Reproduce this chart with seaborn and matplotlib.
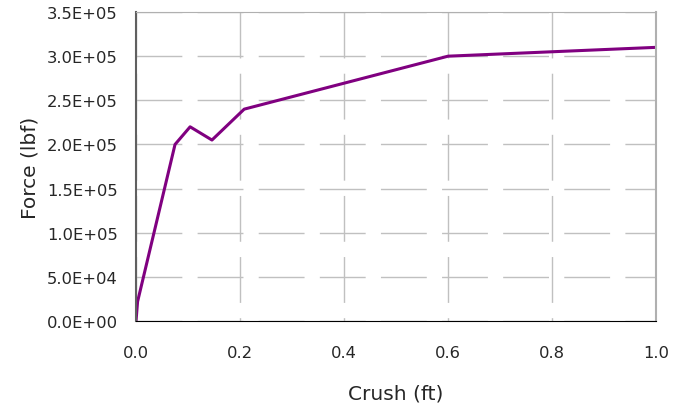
import matplotlib
matplotlib.use("Agg")
import matplotlib.pyplot as plt
import matplotlib.ticker as mticker
import pandas as pd
import seaborn as sns

# crush vs force readings
crush = [0.0, 0.003, 0.075, 0.104, 0.146, 0.208, 0.6, 1.0]
force = [0.0, 2.2e4, 2.0e5, 2.2e5, 2.05e5, 2.4e5, 3.0e5, 3.1e5]

df = pd.DataFrame({"Crush (ft)": crush, "Force (lbf)": force})

sns.set_style("white")
plt.rcParams["font.family"] = ["DejaVu Sans"]

fig = plt.figure(figsize=(6.87, 4.10), dpi=100)
ax = fig.add_axes([0.198, 0.2146, 0.757, 0.7536])

sns.lineplot(data=df, x="Crush (ft)", y="Force (lbf)", sort=False,
             color="#800080", linewidth=2.2, ax=ax)

ax.set_xlim(0, 1.0)
ax.set_ylim(0, 3.5e5)
ax.xaxis.set_major_locator(mticker.MultipleLocator(0.2))
ax.yaxis.set_major_locator(mticker.MultipleLocator(5e4))
ax.xaxis.set_major_formatter(mticker.FormatStrFormatter("%.1f"))
ax.yaxis.set_major_formatter(mticker.FormatStrFormatter("%.1E"))

# dashed grid, vertical dashes phased so they start at the top
ax.yaxis.grid(True, color="#c0c0c0", linestyle=(0, (33, 11)), linewidth=1)
ax.xaxis.grid(True, color="#c0c0c0", linestyle=(30.6, (33, 11)), linewidth=1)
ax.set_axisbelow(True)

ax.spines["left"].set_color("#606060")
ax.spines["left"].set_linewidth(1.5)
ax.spines["bottom"].set_color("black")
ax.spines["top"].set_color("#b0b0b0")
ax.spines["right"].set_color("#b0b0b0")
ax.spines["right"].set_linewidth(1.5)

ax.tick_params(axis="both", direction="out", length=6, width=1, color="black",
               labelsize=11.8, pad=7)
ax.tick_params(axis="x", pad=11.5)

ax.set_xlabel("Crush (ft)", fontsize=14.5, labelpad=17)
ax.set_ylabel("Force (lbf)", fontsize=14.5, labelpad=5)

fig.savefig("out.png", dpi=100)
